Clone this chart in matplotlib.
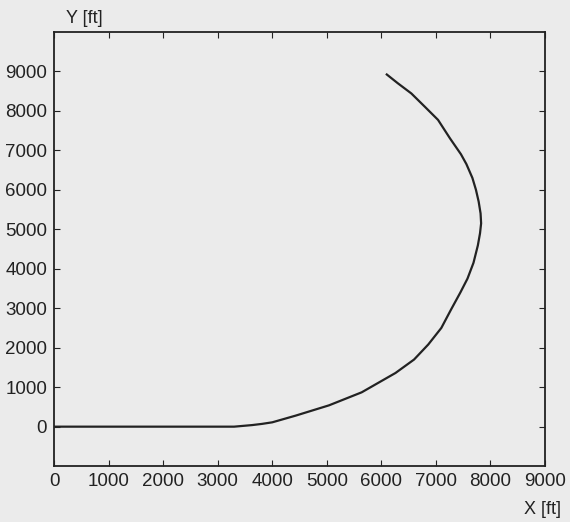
import matplotlib
matplotlib.use("Agg")
import matplotlib.pyplot as plt
import numpy as np

plt.rcParams['font.family'] = ['Liberation Sans', 'DejaVu Sans']

# trajectory, in ft
x_ft = [0, 1000, 2000, 3000, 3300, 3630, 3810, 4000, 4430, 5040, 5640,
        6260, 6600, 6860, 7100, 7280, 7450, 7580, 7690, 7770, 7810,
        7830, 7820, 7785, 7735, 7670, 7560, 7460, 7260, 7040, 6800,
        6550, 6300, 6100]
y_ft = [0, 0, 0, 0, 0, 40, 70, 110, 280, 540, 870,
        1360, 1700, 2080, 2500, 2970, 3400, 3750, 4150, 4590, 4900,
        5150, 5400, 5700, 6000, 6300, 6650, 6900, 7300, 7770, 8100,
        8440, 8700, 8920]

x_ticks = np.arange(0, 9001, 1000)
y_ticks = np.arange(0, 9001, 1000)

bg = '#ebebeb'
fig = plt.figure(figsize=(5.7, 5.22), dpi=100, facecolor=bg)
ax = fig.add_axes([0.095, 0.107, 0.861, 0.832], facecolor=bg)

ax.plot(x_ft, y_ft, color='#222222', lw=1.6)

ax.set_xlim(0, 9000)
ax.set_ylim(-1000, 10000)
ax.set_xticks(x_ticks)
ax.set_yticks(y_ticks)
ax.tick_params(direction='in', top=True, right=True, length=4,
               labelsize=13.5, colors='#222222', pad=5)
for s in ax.spines.values():
    s.set_linewidth(1.3)
    s.set_color('#222222')

fig.text(0.115, 0.965, 'Y [ft]', fontsize=13, ha='left', va='center', color='#222222')
fig.text(0.952, 0.023, 'X [ft]', fontsize=13, ha='center', va='center', color='#222222')

fig.savefig('out.png', dpi=100, facecolor=bg)
